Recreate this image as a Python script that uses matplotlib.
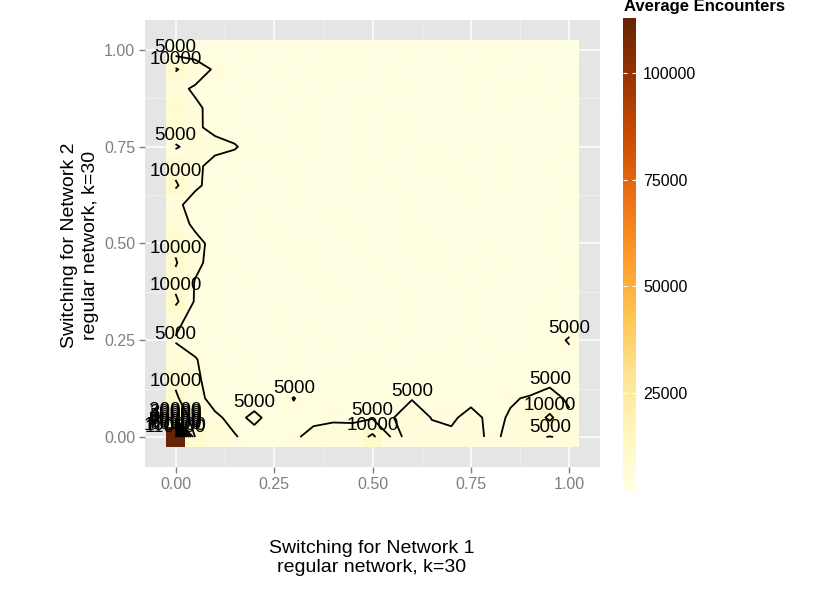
import matplotlib
matplotlib.use("Agg")
import matplotlib.pyplot as plt
import numpy as np

plt.rcParams['font.family'] = ['Liberation Sans', 'DejaVu Sans']

# switching probabilities on each axis
switching_1 = [0.00, 0.05, 0.10, 0.15, 0.20, 0.25, 0.30, 0.35, 0.40, 0.45, 0.50,
               0.55, 0.60, 0.65, 0.70, 0.75, 0.80, 0.85, 0.90, 0.95, 1.00]
switching_2 = [0.00, 0.05, 0.10, 0.15, 0.20, 0.25, 0.30, 0.35, 0.40, 0.45, 0.50,
               0.55, 0.60, 0.65, 0.70, 0.75, 0.80, 0.85, 0.90, 0.95, 1.00]

# average encounters in thousands, rows from switching_2 = 0.00 (bottom) up to 1.00 (top)
encounters_k = [
    [112.8, 9.0, 6.5, 5.2, 4.0, 4.3, 4.5, 6.0, 6.5, 6.8, 11.0, 4.5, 5.5, 5.8, 5.5, 6.0, 4.5, 5.5, 6.0, 4.8, 6.0],
    [14.0, 8.0, 5.5, 4.2, 5.6, 4.0, 4.3, 4.2, 4.5, 4.3, 4.6, 4.8, 7.0, 4.9, 4.6, 5.8, 4.4, 5.2, 6.5, 11.0, 5.5],
    [10.8, 6.0, 4.0, 3.6, 3.8, 3.5, 5.1, 3.7, 3.9, 4.0, 3.8, 4.1, 4.8, 4.2, 3.9, 4.3, 3.8, 4.8, 5.2, 6.0, 4.5],
    [9.0, 5.5, 3.8, 3.2, 3.4, 3.1, 3.5, 3.3, 3.2, 3.6, 3.4, 3.3, 3.8, 3.5, 3.4, 3.7, 3.3, 3.6, 3.8, 4.2, 4.0],
    [7.0, 5.2, 3.5, 3.1, 3.3, 3.0, 3.2, 3.1, 3.0, 3.2, 3.3, 3.1, 3.0, 3.2, 3.4, 3.1, 3.0, 3.3, 3.2, 3.5, 4.0],
    [4.7, 3.8, 3.1, 3.2, 3.0, 3.1, 3.2, 3.0, 3.3, 3.1, 3.0, 3.2, 3.1, 3.0, 3.2, 3.1, 3.3, 3.0, 3.4, 3.8, 5.3],
    [6.0, 3.5, 3.2, 3.0, 3.1, 3.3, 3.0, 3.2, 3.1, 3.0, 3.2, 3.1, 3.3, 3.0, 3.1, 3.2, 3.0, 3.1, 3.2, 3.4, 3.6],
    [11.0, 4.5, 3.3, 3.1, 3.0, 3.2, 3.1, 3.0, 3.2, 3.3, 3.1, 3.0, 3.2, 3.1, 3.0, 3.2, 3.1, 3.3, 3.0, 3.2, 3.1],
    [8.5, 4.8, 3.4, 3.0, 3.2, 3.1, 3.0, 3.2, 3.3, 3.1, 3.0, 3.2, 3.1, 3.0, 3.3, 3.1, 3.2, 3.0, 3.1, 3.0, 3.2],
    [10.4, 5.8, 3.8, 3.2, 3.1, 3.0, 3.3, 3.3, 3.1, 3.0, 3.2, 3.1, 3.0, 3.2, 3.1, 3.3, 3.0, 3.2, 3.0, 3.1, 3.2],
    [9.0, 6.5, 3.5, 3.1, 3.0, 3.2, 4.0, 3.3, 3.0, 3.2, 3.1, 3.0, 3.2, 3.3, 3.0, 3.1, 3.2, 3.0, 3.1, 3.3, 3.1],
    [7.5, 4.0, 3.3, 3.0, 3.2, 3.4, 3.1, 3.0, 3.3, 3.2, 3.0, 3.1, 3.3, 3.0, 3.2, 3.1, 3.0, 3.3, 3.1, 3.2, 3.0],
    [5.7, 3.8, 3.4, 3.2, 3.0, 3.1, 3.3, 3.0, 3.2, 3.1, 1.9, 3.0, 3.2, 3.0, 3.1, 3.2, 3.0, 3.1, 3.3, 3.0, 3.2],
    [10.8, 5.5, 4.0, 3.1, 3.3, 3.0, 3.2, 3.0, 3.1, 3.3, 3.0, 3.2, 3.0, 3.1, 3.3, 3.9, 3.0, 3.2, 3.1, 3.0, 3.3],
    [8.0, 5.8, 3.8, 3.3, 3.0, 3.2, 3.4, 3.1, 3.0, 3.2, 3.3, 3.0, 3.1, 3.4, 3.2, 3.0, 3.1, 3.3, 3.0, 3.2, 3.1],
    [4.6, 6.5, 6.0, 5.3, 3.5, 3.2, 3.0, 3.3, 3.1, 3.2, 3.0, 3.4, 3.1, 3.2, 3.0, 3.3, 3.1, 3.2, 3.0, 3.1, 3.2],
    [7.5, 5.5, 4.2, 3.4, 3.1, 3.0, 3.3, 3.2, 3.0, 3.8, 3.1, 3.2, 3.4, 3.0, 3.2, 3.1, 3.3, 3.0, 3.2, 2.9, 3.1],
    [8.0, 5.6, 4.0, 3.2, 3.0, 3.3, 3.1, 3.4, 2.9, 3.2, 3.5, 3.0, 3.1, 3.3, 3.0, 3.2, 2.9, 3.4, 3.1, 3.3, 3.0],
    [6.0, 4.5, 3.6, 3.1, 3.4, 3.0, 3.2, 2.8, 3.3, 3.1, 3.0, 3.4, 3.2, 2.9, 3.1, 3.3, 3.0, 3.2, 3.6, 3.0, 3.2],
    [10.5, 7.0, 4.5, 3.3, 3.0, 3.5, 2.9, 3.2, 3.4, 4.2, 3.0, 3.3, 3.1, 3.1, 2.9, 3.2, 3.5, 3.0, 3.3, 3.1, 2.9],
    [2.5, 3.0, 3.2, 3.1, 3.4, 2.9, 3.3, 3.0, 3.6, 3.2, 2.8, 3.1, 3.5, 3.0, 3.3, 2.9, 3.2, 3.4, 3.0, 3.1, 2.7],
]

contour_levels = [5000, 10000, 20000, 30000, 40000, 50000, 60000, 70000, 80000, 90000, 100000, 110000]
axis_ticks = [0.00, 0.25, 0.50, 0.75, 1.00]
legend_ticks = [25000, 50000, 75000, 100000]

z = np.array(encounters_k) * 1000

fig = plt.figure(figsize=(8.3, 5.93), dpi=100)
ax = fig.add_axes([145 / 830, 1 - 467 / 593, 455 / 830, 447 / 593])
ax.set_facecolor('#E5E5E5')
for s in ax.spines.values():
    s.set_visible(False)

mesh = ax.pcolormesh(switching_1, switching_2, z, shading='nearest', cmap='YlOrBr',
                     vmin=z.min(), vmax=z.max(), zorder=2)
cs = ax.contour(switching_1, switching_2, z, levels=contour_levels, colors='black',
                linewidths=1.3, zorder=3)

# direct labels at the top of each contour piece
for level, segs in zip(cs.levels, cs.allsegs):
    for seg in segs:
        if len(seg) == 0:
            continue
        k = np.argmax(seg[:, 1])
        ax.text(seg[k, 0], seg[k, 1], f'{int(level)}', ha='center', va='bottom',
                fontsize=13.5, color='black', zorder=4)

ax.set_xlim(-0.0775, 1.0775)
ax.set_ylim(-0.0775, 1.0775)
ax.set_xticks(axis_ticks)
ax.set_yticks(axis_ticks)
ax.set_xticklabels([f'{t:.2f}' for t in axis_ticks])
ax.set_yticklabels([f'{t:.2f}' for t in axis_ticks])
minor = [0.125, 0.375, 0.625, 0.875]
ax.set_xticks(minor, minor=True)
ax.set_yticks(minor, minor=True)
ax.grid(which='major', color='white', linewidth=1.1)
ax.grid(which='minor', color='#F2F2F2', linewidth=0.6)
ax.set_axisbelow(True)
ax.tick_params(which='major', color='#7F7F7F', length=4, width=1,
               labelcolor='#7F7F7F', labelsize=11.5, pad=3)
ax.tick_params(which='minor', length=0)

fig.text(372 / 830, 1 - 558 / 593, 'Switching for Network 1\nregular network, k=30',
         ha='center', va='center', fontsize=14, linespacing=1.15)
fig.text(80 / 830, 1 - 245 / 593, 'Switching for Network 2\nregular network, k=30',
         ha='center', va='center', rotation=90, fontsize=14, linespacing=1.25)

cax = fig.add_axes([623 / 830, 1 - 492 / 593, 13 / 830, 474 / 593])
cb = fig.colorbar(mesh, cax=cax, ticks=legend_ticks)
cb.outline.set_visible(False)
cax.tick_params(direction='in', color='white', length=3, width=0.8, labelsize=11.5,
                left=True, right=True, labelleft=False, labelright=True, pad=5)
fig.text(624 / 830, 1 - 7 / 593, 'Average Encounters', ha='left', va='center',
         fontsize=12, fontweight='bold')

fig.savefig('out.png', dpi=100)
